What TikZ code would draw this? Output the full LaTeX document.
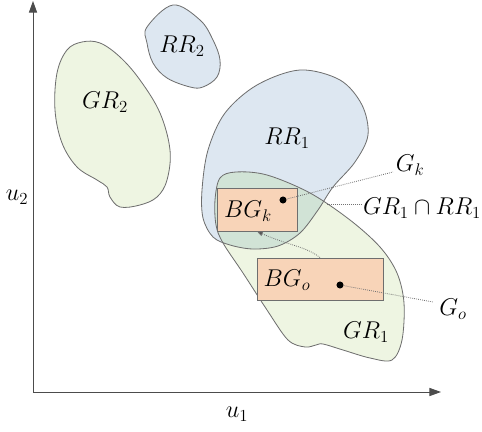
\documentclass[tikz,border=0pt]{standalone}
\usetikzlibrary{arrows.meta}
\definecolor{rrblue}{HTML}{DDE7F1}
\definecolor{grgreen}{HTML}{EEF5E2}
\definecolor{overlap}{HTML}{D1E3D6}
\definecolor{boxorange}{HTML}{F8D4B8}
\definecolor{edge}{HTML}{6E6E6E}

\begin{document}
\begin{tikzpicture}[x=0.03cm, y=-0.03cm,
    region/.style={draw=edge, line width=0.7pt},
    bbox/.style={rectangle, draw=edge, line width=0.8pt, fill=boxorange, inner sep=0pt},
    txt/.style={font=\fontsize{20.74}{25}\selectfont, inner sep=1pt},
    dot/.style={circle, fill=black, inner sep=0pt, minimum size=6pt},
    lead/.style={draw=black!55, densely dotted, line width=0.7pt},
    axis/.style={draw=black!70, line width=0.8pt, -{Triangle[length=10pt, width=7pt]}}]
    \useasboundingbox (0,0) rectangle (482,432);

    % Regions
    \filldraw[region, fill=grgreen] plot[smooth cycle, tension=0.6] coordinates {(82,42) (100,43) (120,57) (140,80) (160,113) (170,150) (167,180) (157,197) (140,205) (120,207) (110,197) (107,187) (97,180) (77,167) (62,143) (55,110) (57,73) (67,50)};
    \filldraw[region, fill=rrblue] plot[smooth cycle, tension=0.6] coordinates {(147,27) (173,5) (200,20) (213,40) (220,60) (217,77) (203,87) (190,87) (167,78) (153,63) (147,43)};
    \path[save path=\grpath] plot[smooth cycle, tension=0.55] coordinates {(215,200) (220,178) (236,172) (267,175) (310,193) (350,220) (380,247) (397,273) (404,303) (402,340) (392,360) (370,358) (343,350) (323,344) (316,345) (305,347) (288,340) (267,310) (243,273) (223,243) (216,225)};
    \path[save path=\rrpath] plot[smooth cycle, tension=0.55] coordinates {(300,70) (340,80) (362,105) (368,135) (355,162) (333,187) (318,210) (300,233) (278,246) (253,249) (230,245) (213,237) (203,218) (202,190) (208,150) (225,113) (257,85)};
    \fill[grgreen, use path=\grpath];
    \fill[rrblue, use path=\rrpath];
    \begin{scope}
        \clip[use path=\rrpath];
        \fill[overlap, use path=\grpath];
    \end{scope}
    \draw[region, use path=\grpath];
    \draw[region, use path=\rrpath];

    % Axes
    \coordinate (O) at (33,392);
    \coordinate (ytip) at (33,1);
    \coordinate (xtip) at (441,392);
    \draw[axis] (O) -- (ytip);
    \draw[axis] (O) -- (xtip);
    \node (lu1) [txt] at (237,414) {$u_1$};
    \node (lu2) [txt] at (17,197) {$u_2$};

    % Boxes
    \node (BGk) [bbox, minimum width=2.4cm, minimum height=1.29cm] at (257,209.5) {};
    \node (BGo) [bbox, minimum width=3.78cm, minimum height=1.26cm] at (320,279) {};
    \node (tBGk) [txt] at (248,211) {$BG_k$};
    \node (tBGo) [txt] at (287,280) {$BG_o$};
    \node (dk) [dot] at (283,200) {};
    \node (do) [dot] at (340,285) {};

    % Labels
    \node (lGR2) [txt] at (105,102) {$GR_2$};
    \node (lRR2) [txt] at (182,46) {$RR_2$};
    \node (lRR1) [txt] at (287,138) {$RR_1$};
    \node (lGR1) [txt] at (366,332) {$GR_1$};
    \node (lGk) [txt] at (410,165) {$G_k$};
    \node (lCap) [txt] at (422,208) {$GR_1 \cap RR_1$};
    \node (lGo) [txt] at (453,309) {$G_o$};

    % Connectors
    \coordinate (cap) at (327,204);
    \coordinate (gkend) at (393,172);
    \coordinate (goend) at (433,302);
    \draw[lead] (dk) -- (gkend);
    \draw[lead] (cap) -- (cap -| lCap.west);
    \draw[lead] (do) -- (goend);
    \draw[lead, -{Triangle[length=5pt, width=4pt, fill=black!70]}] (BGo.north) .. controls (305,246) and (290,246) .. (BGk.south);
\end{tikzpicture}
\end{document}
